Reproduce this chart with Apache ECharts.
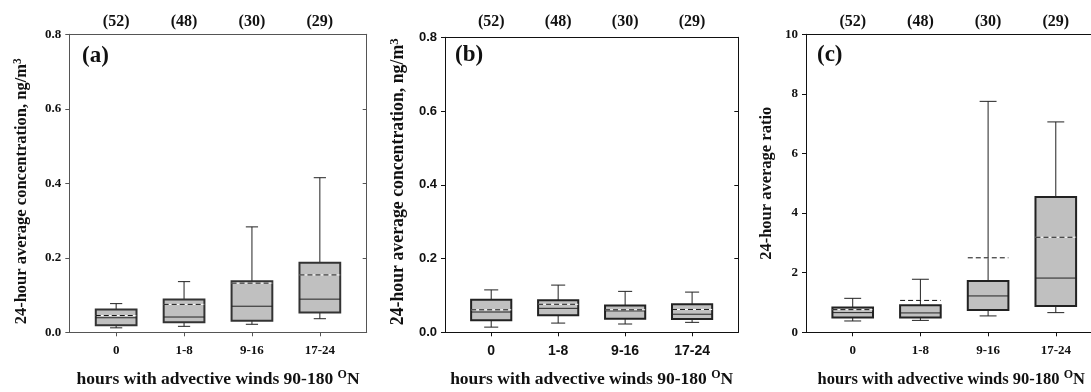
<!DOCTYPE html>
<html><head><meta charset="utf-8">
<script src="https://cdn.jsdelivr.net/npm/echarts@6/dist/echarts.min.js"></script>
<style>html,body{margin:0;padding:0;background:#fff;overflow:hidden}#c{width:1091px;height:392px}</style>
</head><body><div id="c"></div>
<script>
// ---- data ----
const categories = ['0', '1-8', '9-16', '17-24'];
const counts = ['(52)', '(48)', '(30)', '(29)'];

// panel (a) concentration, ng/m3
const aMin  = [0.012, 0.016, 0.0215, 0.0365];
const aQ1   = [0.019, 0.027, 0.031, 0.053];
const aMed  = [0.039, 0.041, 0.070, 0.089];
const aQ3   = [0.061, 0.088, 0.137, 0.187];
const aMax  = [0.077, 0.136, 0.283, 0.415];
const aMean = [0.045, 0.075, 0.132, 0.154];

// panel (b) concentration, ng/m3
const bMin  = [0.014, 0.025, 0.0225, 0.027];
const bQ1   = [0.033, 0.046, 0.037, 0.036];
const bMed  = [0.055, 0.065, 0.058, 0.049];
const bQ3   = [0.088, 0.087, 0.073, 0.076];
const bMax  = [0.115, 0.128, 0.111, 0.109];
const bMean = [0.061, 0.076, 0.061, 0.062];

// panel (c) ratio
const cMin  = [0.38, 0.40, 0.55, 0.66];
const cQ1   = [0.50, 0.50, 0.75, 0.88];
const cMed  = [0.66, 0.65, 1.22, 1.82];
const cQ3   = [0.83, 0.91, 1.72, 4.54];
const cMax  = [1.14, 1.78, 7.75, 7.06];
const cMean = [0.76, 1.07, 2.50, 3.19];

function rows(mn, q1, md, q3, mx, mean) {
  return categories.map((c, i) => [i, mn[i], q1[i], md[i], q3[i], mx[i], mean[i]]);
}

const SERIF = '"Liberation Serif", "Times New Roman", serif';
const SANS = '"Liberation Sans", Arial, sans-serif';
const XMIN = -0.69, XMAX = 3.69;

function makeRender(boxW, capW, boxStroke) {
  return function (params, api) {
    const x = api.value(0);
    const lo = api.value(1), q1 = api.value(2), md = api.value(3), q3 = api.value(4), hi = api.value(5), mean = api.value(6);
    const P = (dx, v) => api.coord([x + dx, v]);
    const ln = (a, b, style) => ({ type: 'line', shape: { x1: a[0], y1: a[1], x2: b[0], y2: b[1] }, style: style });
    const wStyle = { stroke: '#222', lineWidth: 1 };
    const tl = P(-boxW / 2, q3), br = P(boxW / 2, q1);
    return {
      type: 'group',
      children: [
        ln(P(0, q3), P(0, hi), wStyle),
        ln(P(0, q1), P(0, lo), wStyle),
        ln(P(-capW / 2, hi), P(capW / 2, hi), wStyle),
        ln(P(-capW / 2, lo), P(capW / 2, lo), wStyle),
        { type: 'rect', shape: { x: tl[0], y: tl[1], width: br[0] - tl[0], height: br[1] - tl[1] },
          style: { fill: '#c0c0c0', stroke: boxStroke, lineWidth: 2 } },
        ln(P(-boxW / 2, md), P(boxW / 2, md), { stroke: '#222', lineWidth: 1 }),
        ln(P(-boxW / 2, mean), P(boxW / 2, mean), { stroke: '#ffffff', lineWidth: 1 }),
        ln(P(-boxW / 2, mean), P(boxW / 2, mean), { stroke: '#111', lineWidth: 1, lineDash: [5, 3] })
      ]
    };
  };
}

function bottomX(grid, font, size, color, nameSize, namePad) {
  return {
    gridIndex: grid, type: 'value', position: 'bottom', min: XMIN, max: XMAX,
    name: 'hours with advective winds 90-180 {s|O}N', nameLocation: 'middle', nameGap: 37,
    nameTextStyle: { fontFamily: SERIF, fontWeight: 'bold', fontSize: nameSize, color: '#111', lineHeight: 20, padding: namePad,
      rich: { s: { fontFamily: SERIF, fontWeight: 'bold', fontSize: 12, lineHeight: 12, verticalAlign: 'top', color: '#111' } } },
    axisLine: { show: true, onZero: false, lineStyle: { color: color, width: 1 } },
    axisTick: { show: true, inside: false, length: 4, customValues: [0, 1, 2, 3], lineStyle: { color: color } },
    axisLabel: { show: true, customValues: [0, 1, 2, 3], margin: 11.5, fontFamily: font, fontWeight: 'bold', fontSize: size, color: '#111',
      formatter: v => categories[Math.round(v)] },
    splitLine: { show: false }
  };
}
function topX(grid, margin, color) {
  return {
    gridIndex: grid, type: 'value', position: 'top', min: XMIN, max: XMAX,
    axisLine: { show: true, onZero: false, lineStyle: { color: color, width: 1 } },
    axisTick: { show: false },
    axisLabel: { show: true, customValues: [0, 1, 2, 3], margin: margin, fontFamily: SERIF, fontWeight: 'bold', fontSize: 16, color: '#111',
      formatter: v => counts[Math.round(v)] },
    splitLine: { show: false }
  };
}
function leftY(grid, max, interval, font, size, color, name, nameSize, nameGap, namePad, fmt) {
  return {
    gridIndex: grid, type: 'value', position: 'left', min: 0, max: max, interval: interval,
    name: name, nameLocation: 'middle', nameGap: nameGap,
    nameTextStyle: { fontFamily: SERIF, fontWeight: 'bold', fontSize: nameSize, color: '#111', lineHeight: nameSize + 3,
      padding: namePad,
      rich: { s: { fontFamily: SERIF, fontWeight: 'bold', fontSize: nameSize - 5, lineHeight: nameSize - 5, verticalAlign: 'top', color: '#111' } } },
    axisLine: { show: true, onZero: false, lineStyle: { color: color, width: 1 } },
    axisTick: { show: true, inside: false, length: 4, lineStyle: { color: color } },
    axisLabel: { margin: 8, fontFamily: font, fontWeight: 'bold', fontSize: size, color: '#111', formatter: fmt },
    splitLine: { show: false }
  };
}
function rightY(grid, max, interval, color) {
  return {
    gridIndex: grid, type: 'value', position: 'right', min: 0, max: max, interval: interval,
    axisLine: { show: true, onZero: false, lineStyle: { color: color, width: 1 } },
    axisTick: { show: true, inside: true, length: 4, lineStyle: { color: color } },
    axisLabel: { show: false },
    splitLine: { show: false }
  };
}

const option = {
  animation: false,
  backgroundColor: '#ffffff',
  grid: [
    { left: 69.3, top: 34.3, width: 297.4, height: 298, outerBoundsMode: 'none', containLabel: false },
    { left: 445, top: 37.3, width: 293.3, height: 295, outerBoundsMode: 'none', containLabel: false },
    { left: 806, top: 34.3, right: -11.5, height: 298, outerBoundsMode: 'none', containLabel: false }
  ],
  xAxis: [
    bottomX(0, SERIF, 13, '#555', 17.5, [0, 0, 0, 0]), topX(0, 4.5, '#555'),
    bottomX(1, SANS, 14, '#111', 17.5, [0, 0, 0, 0]), topX(1, 7.5, '#111'),
    bottomX(2, SERIF, 13, '#111', 16.5, [0, 6, 0, 0]), topX(2, 4.5, '#111')
  ],
  yAxis: [
    leftY(0, 0.8, 0.2, SERIF, 13, '#555', '24-hour average concentration, ng/m{s|3}', 16.5, 37.5, [0, 16, 0, 0], v => v.toFixed(1)),
    rightY(0, 0.8, 0.2, '#555'),
    leftY(1, 0.8, 0.2, SANS, 13, '#111', '24-hour average concentration, ng/m{s|3}', 17.8, 36.5, [0, 0, 0, 6], v => v.toFixed(1)),
    rightY(1, 0.8, 0.2, '#111'),
    leftY(2, 10, 2, SERIF, 13, '#111', '24-hour average ratio', 16.5, 29.5, [0, 0, 0, 0], v => String(v))
  ],
  series: [
    { type: 'custom', xAxisIndex: 0, yAxisIndex: 0, encode: { x: 0, y: [1, 2, 3, 4, 5, 6] },
      renderItem: makeRender(0.6, 0.18, '#333'), data: rows(aMin, aQ1, aMed, aQ3, aMax, aMean) },
    { type: 'custom', xAxisIndex: 2, yAxisIndex: 2, encode: { x: 0, y: [1, 2, 3, 4, 5, 6] },
      renderItem: makeRender(0.6, 0.21, '#222'), data: rows(bMin, bQ1, bMed, bQ3, bMax, bMean) },
    { type: 'custom', xAxisIndex: 4, yAxisIndex: 4, encode: { x: 0, y: [1, 2, 3, 4, 5, 6] },
      renderItem: makeRender(0.6, 0.25, '#222'), data: rows(cMin, cQ1, cMed, cQ3, cMax, cMean) }
  ],
  graphic: [
    { type: 'text', left: 82, top: 45, style: { text: '(a)', font: 'bold 23px ' + SERIF, fill: '#111' } },
    { type: 'text', left: 455, top: 44, style: { text: '(b)', font: 'bold 23px ' + SERIF, fill: '#111' } },
    { type: 'text', left: 817, top: 44, style: { text: '(c)', font: 'bold 23px ' + SERIF, fill: '#111' } }
  ]
};

const chart = echarts.init(document.getElementById('c'), null, { renderer: 'canvas' });
chart.setOption(option);
</script>
</body></html>
